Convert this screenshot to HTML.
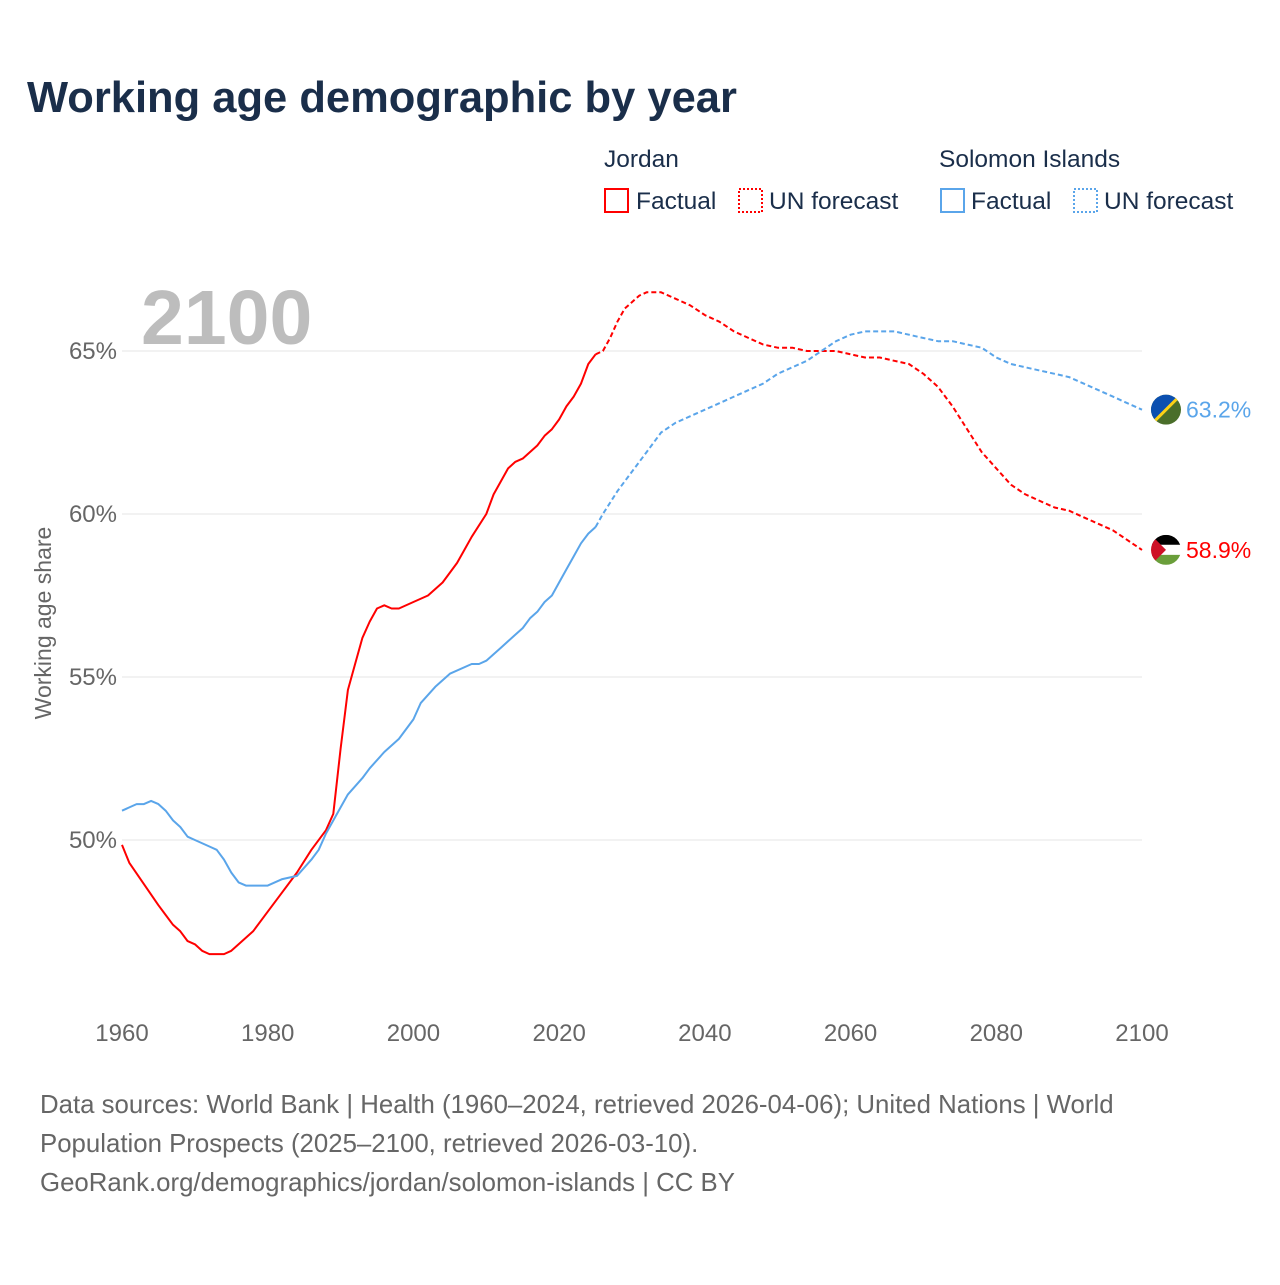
<!DOCTYPE html>
<html><head><meta charset="utf-8"><style>
body{margin:0;background:#fff;font-family:"Liberation Sans",sans-serif}
svg text{font-family:"Liberation Sans",sans-serif}
</style></head><body>
<svg width="1280" height="1280" xmlns="http://www.w3.org/2000/svg">
<text x="27" y="112" font-size="43.5" font-weight="bold" fill="#1a2e4a">Working age demographic by year</text>
<g font-size="24.5" fill="#1a2e4a">
<text x="604" y="167">Jordan</text>
<rect x="605" y="189" width="23" height="23" fill="none" stroke="#f00" stroke-width="2"/>
<text x="636" y="209">Factual</text>
<rect x="739" y="189" width="23" height="23" fill="none" stroke="#f00" stroke-width="2" stroke-dasharray="2,2"/>
<text x="769" y="209">UN forecast</text>
<text x="939" y="167">Solomon Islands</text>
<rect x="941" y="189" width="23" height="23" fill="none" stroke="#5aa5ea" stroke-width="2"/>
<text x="971" y="209">Factual</text>
<rect x="1074" y="189" width="23" height="23" fill="none" stroke="#5aa5ea" stroke-width="2" stroke-dasharray="2,2"/>
<text x="1104" y="209">UN forecast</text>
</g>
<text x="141" y="344" font-size="77" font-weight="bold" fill="#bdbdbd">2100</text>
<text transform="translate(51,623) rotate(-90)" text-anchor="middle" font-size="23" fill="#666">Working age share</text>
<g id="grid"></g><g id="series"></g><g id="xt"></g>
<g font-size="25.8" fill="#666">
<text x="40" y="1113">Data sources: World Bank | Health (1960–2024, retrieved 2026-04-06); United Nations | World</text>
<text x="40" y="1152">Population Prospects (2025–2100, retrieved 2026-03-10).</text>
<text x="40" y="1191">GeoRank.org/demographics/jordan/solomon-islands | CC BY</text>
</g>
</svg>
<script>
const yTicks=[50,55,60,65];
const xTicks=[1960,1980,2000,2020,2040,2060,2080,2100];
const jYears=[1960,1961,1965,1966,1967,1968,1969,1970,1971,1972,1974,1975,1976,1978,1980,1982,1984,1986,1988,1989,1990,1991,1992,1993,1994,1995,1996,1997,1998,2000,2002,2004,2006,2007,2008,2010,2011,2013,2014,2015,2017,2018,2019,2020,2021,2022,2023,2024,2025];
const jVals=[49.85,49.3,48.0,47.7,47.4,47.2,46.9,46.8,46.6,46.5,46.5,46.6,46.8,47.2,47.8,48.4,49.0,49.7,50.3,50.8,52.8,54.6,55.4,56.2,56.7,57.1,57.2,57.1,57.1,57.3,57.5,57.9,58.5,58.9,59.3,60.0,60.6,61.4,61.6,61.7,62.1,62.4,62.6,62.9,63.3,63.6,64.0,64.6,64.9];
const jFYears=[2025,2026,2027,2028,2029,2030,2031,2032,2034,2036,2038,2040,2042,2044,2046,2048,2050,2052,2054,2056,2058,2060,2062,2064,2066,2068,2070,2072,2074,2076,2078,2080,2082,2084,2086,2088,2090,2092,2094,2096,2098,2100];
const jFVals=[64.9,65.0,65.4,65.9,66.3,66.5,66.7,66.8,66.8,66.6,66.4,66.1,65.9,65.6,65.4,65.2,65.1,65.1,65.0,65.0,65.0,64.9,64.8,64.8,64.7,64.6,64.3,63.9,63.3,62.6,61.9,61.4,60.9,60.6,60.4,60.2,60.1,59.9,59.7,59.5,59.2,58.9];
const sYears=[1960,1961,1962,1963,1964,1965,1966,1967,1968,1969,1970,1972,1973,1974,1975,1976,1977,1980,1982,1984,1986,1987,1988,1990,1991,1993,1994,1996,1998,2000,2001,2003,2005,2008,2009,2010,2012,2014,2015,2016,2017,2018,2019,2020,2021,2022,2023,2024,2025];
const sVals=[50.9,51.0,51.1,51.1,51.2,51.1,50.9,50.6,50.4,50.1,50.0,49.8,49.7,49.4,49.0,48.7,48.6,48.6,48.8,48.9,49.4,49.7,50.2,51.0,51.4,51.9,52.2,52.7,53.1,53.7,54.2,54.7,55.1,55.4,55.4,55.5,55.9,56.3,56.5,56.8,57.0,57.3,57.5,57.9,58.3,58.7,59.1,59.4,59.6];
const sFYears=[2025,2026,2028,2030,2032,2034,2036,2038,2040,2042,2044,2046,2048,2050,2052,2054,2056,2058,2060,2062,2064,2066,2068,2070,2072,2074,2076,2078,2080,2082,2084,2086,2088,2090,2092,2094,2096,2098,2100];
const sFVals=[59.6,60.0,60.7,61.3,61.9,62.5,62.8,63.0,63.2,63.4,63.6,63.8,64.0,64.3,64.5,64.7,65.0,65.3,65.5,65.6,65.6,65.6,65.5,65.4,65.3,65.3,65.2,65.1,64.8,64.6,64.5,64.4,64.3,64.2,64.0,63.8,63.6,63.4,63.2];
const NS='http://www.w3.org/2000/svg';
const X=y=>122+(y-1960)*(1020/140);
const Y=v=>840-(v-50)*32.6;
function mk(t,a,p){const e=document.createElementNS(NS,t);for(const k in a)e.setAttribute(k,a[k]);document.getElementById(p).appendChild(e);return e;}
yTicks.forEach(v=>{
 const l=mk('line',{x1:122,x2:1142,y1:Y(v),y2:Y(v),stroke:'#e6e6e6','stroke-width':1},'grid');
 
 
 const t=mk('text',{x:117,y:Y(v)+8,'text-anchor':'end','font-size':24,fill:'#666'},'grid');
 t.textContent=v+'%';
 
 
});
xTicks.forEach(v=>{
 const t=mk('text',{x:X(v),y:1041,'text-anchor':'middle','font-size':24,fill:'#666'},'xt');
 t.textContent=v;
 
 
});
function line(ys,vs,color,dash,name){
 const d=ys.map((y,i)=>(i?'L':'M')+X(y).toFixed(1)+','+Y(vs[i]).toFixed(1)).join('');
 const p=mk('path',{d:d,fill:'none',stroke:color,'stroke-width':2,'stroke-linejoin':'round'},'series');
 if(dash)p.setAttribute('stroke-dasharray','5,3');
 
 
}
line(jYears,jVals,'#f00',false,'jordan-factual-line');
line(jFYears,jFVals,'#f00',true,'jordan-forecast-line');
line(sYears,sVals,'#5aa5ea',false,'solomon-factual-line');
line(sFYears,sFVals,'#5aa5ea',true,'solomon-forecast-line');
const jl=jFVals[jFVals.length-1], sl=sFVals[sFVals.length-1];
const g=document.getElementById('series');
g.insertAdjacentHTML('beforeend',
`<defs><clipPath id="cj"><circle cx="1166" cy="${Y(jl)}" r="15"/></clipPath><clipPath id="cs"><circle cx="1166" cy="${Y(sl)}" r="15"/></clipPath></defs>
<g clip-path="url(#cj)"><rect x="1151" y="${Y(jl)-15}" width="30" height="10" fill="#000"/><rect x="1151" y="${Y(jl)-5}" width="30" height="10" fill="#fff"/><rect x="1151" y="${Y(jl)+5}" width="30" height="10" fill="#6a9e3a"/><polygon points="1151,${Y(jl)-15} 1166,${Y(jl)} 1151,${Y(jl)+15}" fill="#ce1126"/></g>
<g clip-path="url(#cs)"><rect x="1151" y="${Y(sl)-15}" width="30" height="30" fill="#4a6e2a"/><polygon points="1151,${Y(sl)-15} 1181,${Y(sl)-15} 1151,${Y(sl)+15}" fill="#0b4fb0"/><line x1="1181" y1="${Y(sl)-15}" x2="1151" y2="${Y(sl)+15}" stroke="#fcd116" stroke-width="3"/></g>
<text x="1186" y="${Y(sl)+8}" font-size="23" fill="#5aa5ea">${sl.toFixed(1)}%</text>
<text x="1186" y="${Y(jl)+8}" font-size="23" fill="#f00">${jl.toFixed(1)}%</text>`);
</script>
</body></html>
